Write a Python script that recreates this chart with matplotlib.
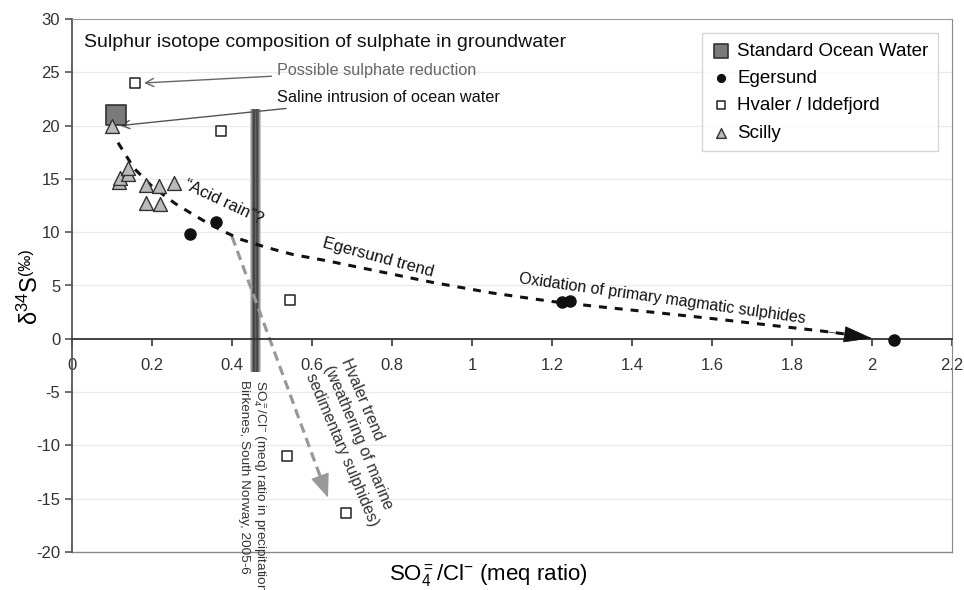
import matplotlib
matplotlib.use("Agg")
import matplotlib.pyplot as plt
import numpy as np

plt.rcParams['font.family'] = ['Liberation Sans', 'DejaVu Sans']
plt.rcParams['mathtext.fontset'] = 'custom'
plt.rcParams['mathtext.rm'] = 'Liberation Sans'
plt.rcParams['mathtext.it'] = 'Liberation Sans:italic'
plt.rcParams['axes.unicode_minus'] = False

# ---- data ----
ocean_x = [0.11]
ocean_y = [21.0]
egersund_x = [0.295, 0.36, 1.225, 1.245, 2.055]
egersund_y = [9.8, 11.0, 3.45, 3.5, -0.1]
hvaler_x = [0.157, 0.372, 0.545, 0.537, 0.685]
hvaler_y = [24.0, 19.5, 3.6, -11.0, -16.3]
scilly_x = [0.099, 0.118, 0.12, 0.141, 0.139, 0.185, 0.218, 0.256, 0.184, 0.22]
scilly_y = [20.0, 14.75, 15.1, 15.5, 16.0, 14.4, 14.3, 14.6, 12.7, 12.6]

# Egersund trend
trend_x = [0.115, 0.155, 0.2, 0.2575, 0.29, 0.337, 0.378, 0.42, 0.462, 0.503, 0.553, 0.64,
           0.77, 0.9, 1.05, 1.2, 1.32, 1.45, 1.6, 1.74, 1.87, 1.95, 2.0]
trend_y = [18.4, 16.0, 14.3, 12.7, 11.95, 10.9, 10.1, 9.35, 8.85, 8.4, 7.9, 7.3,
           6.3, 5.3, 4.3, 3.5, 3.0, 2.5, 1.9, 1.3, 0.75, 0.37, 0.05]
# Hvaler trend arrow
hv_trend_x = [0.40, 0.64]
hv_trend_y = [9.6, -14.9]
# precipitation ratio band (Birkenes)
precip_ratio = 0.4575
precip_band_y = [-3.1, 21.5]

x_ticks = [0, 0.2, 0.4, 0.6, 0.8, 1, 1.2, 1.4, 1.6, 1.8, 2, 2.2]
x_ticklabels = ['0', '0.2', '0.4', '0.6', '0.8', '1', '1.2', '1.4', '1.6', '1.8', '2', '2.2']
y_ticks = list(range(-20, 31, 5))

fig = plt.figure(figsize=(9.64, 5.90), dpi=100)
ax = fig.add_axes([72/964, 1-552/590, 880/964, 533/590])
ax.set_xlim(0, 2.2)
ax.set_ylim(-20, 30)

# grid
for yv in y_ticks:
    if yv not in (-20, 0, 30):
        ax.axhline(yv, color='#ebebeb', lw=1.0, zorder=0)

# spines
ax.spines['bottom'].set_position(('data', 0))
ax.spines['bottom'].set_color('#333333')
ax.spines['bottom'].set_linewidth(1.3)
ax.spines['left'].set_color('#555555')
ax.spines['left'].set_linewidth(1.3)
ax.spines['right'].set_color('#888888')
ax.spines['top'].set_color('#999999')
ax.plot([0, 1], [0, 0], transform=ax.transAxes, color='#888888', lw=1.0, clip_on=False)

ax.set_xticks(x_ticks)
ax.set_xticklabels(x_ticklabels)
ax.set_yticks(y_ticks)
ax.tick_params(axis='x', direction='out', length=5, width=1.2, colors='#333333',
               labelsize=12, pad=9, labelcolor='#333333')
ax.tick_params(axis='y', direction='out', length=5, width=1.2, colors='#555555',
               labelsize=12, labelcolor='#333333')

# precipitation band (gradient)
profile = np.array([[0.78, 0.55, 0.3, 0.25, 0.4, 0.28, 0.3, 0.55, 0.78]])
ax.imshow(profile, cmap='gray', vmin=0, vmax=1, aspect='auto',
          extent=[precip_ratio-0.0125, precip_ratio+0.0125, precip_band_y[0], precip_band_y[1]],
          zorder=1, interpolation='bilinear')
ax.set_xlim(0, 2.2)
ax.set_ylim(-20, 30)

# Egersund trend
ax.plot(trend_x[:-1], trend_y[:-1], color='#111111', lw=2.2, ls=(0, (2.6, 2.6)), zorder=3)
ax.annotate('', xy=(trend_x[-1], trend_y[-1]), xytext=(trend_x[-3], trend_y[-3]),
            arrowprops=dict(arrowstyle='-|>,head_length=1.9,head_width=0.55',
                            color='#111111', lw=0.5, shrinkA=0, shrinkB=0), zorder=3)

# Hvaler trend arrow
hx = np.array(hv_trend_x); hy = np.array(hv_trend_y)
ax.plot([hx[0], hx[0] + 0.93*(hx[1]-hx[0])], [hy[0], hy[0] + 0.93*(hy[1]-hy[0])],
        color='#999999', lw=2.3, ls=(0, (3, 1.8)), zorder=2)
ax.annotate('', xy=(hx[1], hy[1]), xytext=(hx[0] + 0.9*(hx[1]-hx[0]), hy[0] + 0.9*(hy[1]-hy[0])),
            arrowprops=dict(arrowstyle='-|>,head_length=1.5,head_width=0.6',
                            color='#999999', lw=1, shrinkA=0, shrinkB=0), zorder=2)

# points
ax.scatter(ocean_x, ocean_y, marker='s', s=14**2, facecolor='#7a7a7a', edgecolor='#333333',
           lw=1.2, zorder=5, label='Standard Ocean Water')
ax.scatter(egersund_x, egersund_y, marker='o', s=8**2, facecolor='#111111', edgecolor='#111111',
           zorder=5, label='Egersund')
ax.scatter(hvaler_x, hvaler_y, marker='s', s=7.5**2, facecolor='white', edgecolor='#222222',
           lw=1.1, zorder=5, label='Hvaler / Iddefjord')
ax.scatter(scilly_x, scilly_y, marker='^', s=10**2, facecolor='#bbbbbb', edgecolor='#333333',
           lw=1.0, zorder=6, label='Scilly')

leg = ax.legend(loc='upper right', bbox_to_anchor=(938/964, 1-33/590), bbox_transform=fig.transFigure,
                fontsize=13.5, frameon=True, fancybox=False, edgecolor='#cccccc',
                handletextpad=0.3, labelspacing=0.55, borderpad=0.5, handlelength=1.1,
                markerscale=0.7, borderaxespad=0)
leg.get_frame().set_linewidth(1.0)

# texts
ax.text(0.03, 27.8, 'Sulphur isotope composition of sulphate in groundwater', fontsize=14,
        ha='left', va='center', color='#111111')
ax.annotate('Possible sulphate reduction', xy=(0.18, 24.0), xytext=(0.5125, 25.15),
            fontsize=11.7, color='#666666', ha='left', va='center',
            arrowprops=dict(arrowstyle='->,head_length=0.5,head_width=0.25', color='#666666',
                            lw=1.0, shrinkA=2, shrinkB=0))
ax.annotate('Saline intrusion of ocean water', xy=(0.12, 20.0), xytext=(0.5125, 22.6),
            fontsize=11.7, color='#111111', ha='left', va='center',
            arrowprops=dict(arrowstyle='->,head_length=0.5,head_width=0.25', color='#555555',
                            lw=1.0, shrinkA=2, shrinkB=0))

ax.text(0.378, 12.8, '\u201cAcid rain\u201d?', fontsize=12, rotation=-25, ha='center', va='center',
        rotation_mode='anchor', color='#111111')
ax.text(0.765, 7.6, 'Egersund trend', fontsize=12, rotation=-15, ha='center', va='center',
        rotation_mode='anchor', color='#111111')
ax.text(1.475, 3.75, 'Oxidation of primary magmatic sulphides', fontsize=11.5, rotation=-8,
        ha='center', va='center', rotation_mode='anchor', color='#111111')
ax.text(0.72, -9.7, 'Hvaler trend\n(weathering of marine\nsedimentary sulphides)', fontsize=11.5,
        rotation=-67, ha='center', va='center', rotation_mode='anchor', color='#333333',
        multialignment='left', linespacing=1.35)
ax.text(0.452, -3.85, 'SO$_4^{=}$/Cl$^{-}$ (meq) ratio in precipitation\nBirkenes, South Norway, 2005-6',
        fontsize=9.7, rotation=-90, ha='center', va='top', color='#333333',
        multialignment='left', linespacing=1.2, clip_on=False)

# axis labels
fig.text(488/964, 1-576/590, 'SO$_4^{=}$/Cl$^{-}$ (meq ratio)', fontsize=16, ha='center', va='center')
fig.text(30/964, 1-300/590, '\u03b4$^{34}$S', fontsize=17, rotation=90, ha='center', va='center')
fig.text(25/964, 1-262/590, '(\u2030)', fontsize=11.5, rotation=90, ha='center', va='center')

fig.savefig('out.png', dpi=100)
